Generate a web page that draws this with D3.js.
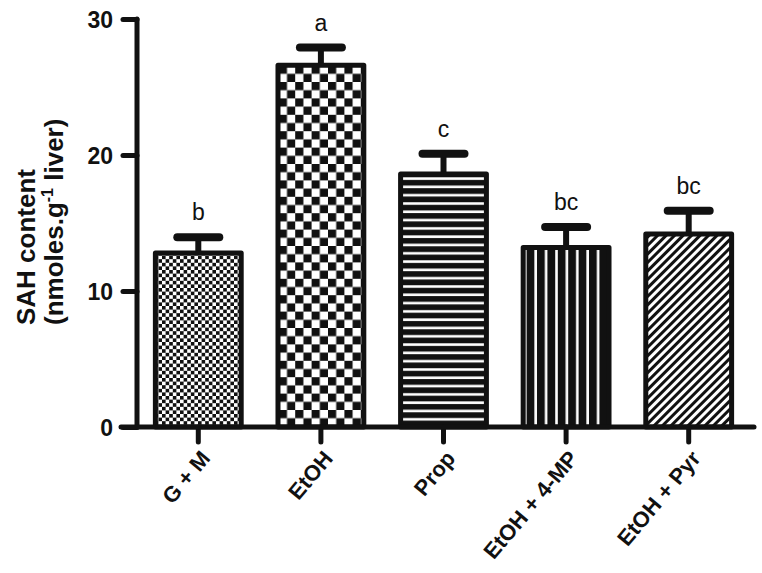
<!DOCTYPE html>
<html>
<head>
<meta charset="utf-8">
<script src="https://cdn.jsdelivr.net/npm/d3@7"></script>
<style>
  html, body { margin: 0; padding: 0; background: #fff; }
  svg { display: block; }
  text { font-family: "Liberation Sans", Arial, Helvetica, sans-serif; }
</style>
</head>
<body>
<script>
// ---- data ----
const categories = ["G + M", "EtOH", "Prop", "EtOH + 4-MP", "EtOH + Pyr"];
const means = [12.8, 26.6, 18.6, 13.2, 14.2];
const errors = [1.15, 1.3, 1.5, 1.5, 1.7];
const letters = ["b", "a", "c", "bc", "bc"];
const patternIds = ["chkSmall", "chkLarge", "hstripe", "vstripe", "diag"];
const yTicks = [0, 10, 20, 30];

const W = 762, H = 573;
const svg = d3.select("body").append("svg").attr("width", W).attr("height", H);
const FONT = '"Liberation Sans", Arial, Helvetica, sans-serif';

// ---- patterns ----
const defs = svg.append("defs");
function checker(id, s) {
  const p = defs.append("pattern").attr("id", id).attr("patternUnits", "userSpaceOnUse")
    .attr("width", 2 * s).attr("height", 2 * s);
  p.append("rect").attr("width", 2 * s).attr("height", 2 * s).attr("fill", "#fff");
  p.append("rect").attr("width", s).attr("height", s).attr("fill", "#111");
  p.append("rect").attr("x", s).attr("y", s).attr("width", s).attr("height", s).attr("fill", "#111");
}
checker("chkSmall", 3.6);
checker("chkLarge", 8.2);
{
  const p = defs.append("pattern").attr("id", "hstripe").attr("patternUnits", "userSpaceOnUse")
    .attr("width", 10).attr("height", 8.3);
  p.append("rect").attr("width", 10).attr("height", 8.3).attr("fill", "#111");
  p.append("rect").attr("y", 3).attr("width", 10).attr("height", 2.6).attr("fill", "#fff");
}
{
  const p = defs.append("pattern").attr("id", "vstripe").attr("patternUnits", "userSpaceOnUse")
    .attr("width", 10.4).attr("height", 10);
  p.append("rect").attr("width", 10.4).attr("height", 10).attr("fill", "#111");
  p.append("rect").attr("x", 4).attr("width", 2.6).attr("height", 10).attr("fill", "#fff");
}
{
  const p = defs.append("pattern").attr("id", "diag").attr("patternUnits", "userSpaceOnUse")
    .attr("width", 6).attr("height", 6).attr("patternTransform", "rotate(45)");
  p.append("rect").attr("width", 6).attr("height", 6).attr("fill", "#fff");
  p.append("rect").attr("width", 3).attr("height", 6).attr("fill", "#111");
}

// ---- scales ----
const x = d3.scaleBand().domain(categories).range([137, 750]).paddingInner(0.3).paddingOuter(0.15);
const y = d3.scaleLinear().domain([0, 30]).range([427, 19]);

const data = categories.map((c, i) => ({ c, m: means[i], e: errors[i], l: letters[i], p: patternIds[i] }));

// ---- error bars (behind bars) ----
const eb = svg.append("g");
eb.selectAll("line.stem").data(data).join("line")
  .attr("x1", d => x(d.c) + x.bandwidth() / 2).attr("x2", d => x(d.c) + x.bandwidth() / 2)
  .attr("y1", d => y(d.m)).attr("y2", d => y(d.m + d.e))
  .attr("stroke", "#111").attr("stroke-width", 6);
eb.selectAll("line.cap").data(data).join("line")
  .attr("x1", d => x(d.c) + x.bandwidth() / 2 - 21).attr("x2", d => x(d.c) + x.bandwidth() / 2 + 21)
  .attr("y1", d => y(d.m + d.e)).attr("y2", d => y(d.m + d.e))
  .attr("stroke", "#111").attr("stroke-width", 8).attr("stroke-linecap", "round");

// ---- bars ----
svg.append("g").selectAll("rect").data(data).join("rect")
  .attr("x", d => x(d.c)).attr("width", x.bandwidth())
  .attr("y", d => y(d.m)).attr("height", d => y(0) - y(d.m))
  .attr("fill", d => `url(#${d.p})`)
  .attr("stroke", "#111").attr("stroke-width", 5).attr("stroke-linejoin", "round");

// ---- letters ----
svg.append("g").selectAll("text").data(data).join("text")
  .attr("x", d => x(d.c) + x.bandwidth() / 2)
  .attr("y", d => y(d.m + d.e) - 17)
  .attr("text-anchor", "middle").attr("font-size", 23).attr("fill", "#111")
  .attr("font-family", FONT)
  .text(d => d.l);

// ---- y axis ----
const yAxis = svg.append("g").attr("transform", "translate(137,0)")
  .call(d3.axisLeft(y).tickValues(yTicks).tickSize(14).tickPadding(10).tickFormat(d3.format("d")));
yAxis.select(".domain").remove();
yAxis.selectAll(".tick line").attr("stroke", "#111").attr("stroke-width", 5).attr("stroke-linecap", "round");
yAxis.selectAll(".tick text").attr("font-size", 23).attr("font-weight", "bold").attr("fill", "#111")
  .attr("font-family", FONT).attr("dy", "0.36em");
svg.append("line").attr("x1", 137).attr("x2", 137).attr("y1", y(30)).attr("y2", y(0))
  .attr("stroke", "#111").attr("stroke-width", 5).attr("stroke-linecap", "round");

// ---- x axis ----
const xAxis = svg.append("g").attr("transform", `translate(0,${y(0)})`)
  .call(d3.axisBottom(x).tickSize(15).tickPadding(0));
xAxis.select(".domain").remove();
xAxis.selectAll(".tick line").attr("stroke", "#111").attr("stroke-width", 5).attr("stroke-linecap", "round");
xAxis.selectAll(".tick text")
  .attr("font-size", 22).attr("font-weight", "bold").attr("fill", "#111")
  .attr("font-family", FONT)
  .attr("text-anchor", "end").attr("dy", null).attr("y", null)
  .attr("transform", "translate(13,32) rotate(-50)");
svg.append("line").attr("x1", 121).attr("x2", 754).attr("y1", y(0)).attr("y2", y(0))
  .attr("stroke", "#111").attr("stroke-width", 5).attr("stroke-linecap", "round");

// ---- y title ----
svg.append("text").attr("transform", "translate(35,325) rotate(-90)")
  .attr("font-size", 26).attr("font-weight", "bold").attr("fill", "#111")
  .attr("font-family", FONT).text("SAH content");
const t2 = svg.append("text").attr("transform", "translate(63,325) rotate(-90)")
  .attr("font-size", 26).attr("font-weight", "bold").attr("fill", "#111").attr("font-family", FONT);
t2.append("tspan").text("(nmoles.g");
t2.append("tspan").attr("dy", -10).attr("font-size", 16).text("-1");
t2.append("tspan").attr("dy", 10).text(" liver)");
</script>
</body>
</html>
